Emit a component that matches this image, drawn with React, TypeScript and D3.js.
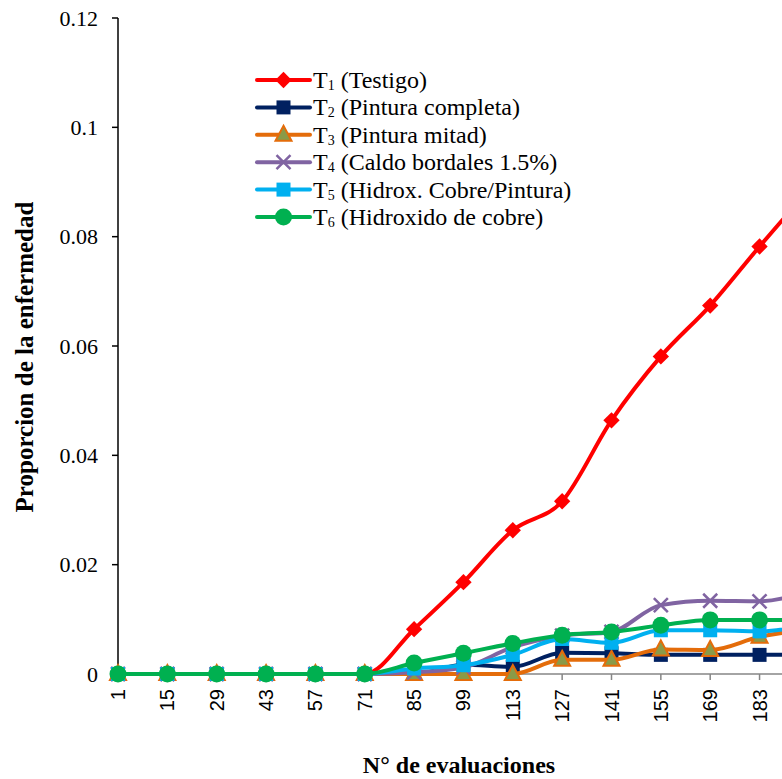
import React, { useEffect, useRef } from 'react';
import * as d3 from 'd3';

// N° de evaluaciones (197 sits just past the right edge, the chart is cut there)
const categories = [1, 15, 29, 43, 57, 71, 85, 99, 113, 127, 141, 155, 169, 183, 197];

const t1 = [0, 0, 0, 0, 0, 0, 0.0082, 0.0168, 0.0263, 0.0316, 0.0464, 0.0581, 0.0674, 0.0782, 0.0886];
const t2 = [0, 0, 0, 0, 0, 0, 0, 0.0017, 0.0013, 0.0039, 0.0038, 0.0035, 0.0035, 0.0035, 0.0035];
const t3 = [0, 0, 0, 0, 0, 0, 0, 0, 0, 0.0026, 0.0026, 0.0045, 0.0044, 0.0068, 0.0082];
const t4 = [0, 0, 0, 0, 0, 0, 0.0003, 0.0012, 0.0049, 0.007, 0.0077, 0.0126, 0.0134, 0.0133, 0.0152];
const t5 = [0, 0, 0, 0, 0, 0, 0.001, 0.0016, 0.0035, 0.0064, 0.0057, 0.008, 0.008, 0.0078, 0.009];
const t6 = [0, 0, 0, 0, 0, 0, 0.002, 0.0038, 0.0056, 0.0071, 0.0077, 0.0089, 0.0099, 0.0099, 0.0099];

const seriesNames = [
  ['1', ' (Testigo)'],
  ['2', ' (Pintura completa)'],
  ['3', ' (Pintura mitad)'],
  ['4', ' (Caldo bordales 1.5%)'],
  ['5', ' (Hidrox. Cobre/Pintura)'],
  ['6', ' (Hidroxido de cobre)'],
];
const yTicks = [0, 0.02, 0.04, 0.06, 0.08, 0.1, 0.12];

const allSeries = [t1, t2, t3, t4, t5, t6];
const colors = ['#ff0000', '#002060', '#e46c0a', '#8064a2', '#00b0f0', '#00b050'];
const markers = ['diamond', 'square', 'triangle', 'x', 'square', 'circle'];

const serif = '"Liberation Serif", "Times New Roman", serif';
const sans = '"Liberation Sans", Arial, sans-serif';

function drawMarker(g: any, kind: string, color: string, x: number, y: number) {
  if (kind === 'circle') {
    g.append('circle').attr('cx', x).attr('cy', y).attr('r', 8.5).attr('fill', color);
  } else if (kind === 'square') {
    g.append('rect').attr('x', x - 7).attr('y', y - 7).attr('width', 14).attr('height', 14).attr('fill', color);
  } else if (kind === 'diamond') {
    g.append('path')
      .attr('d', d3.symbol().type(d3.symbolDiamond2).size(170)())
      .attr('transform', `translate(${x},${y})`)
      .attr('fill', color);
  } else if (kind === 'triangle') {
    g.append('path')
      .attr('d', `M${x},${y - 9}L${x + 8},${y + 6}L${x - 8},${y + 6}Z`)
      .attr('fill', '#8a9a48')
      .attr('stroke', color)
      .attr('stroke-width', 2);
  } else if (kind === 'x') {
    g.append('path')
      .attr('d', `M${x - 7},${y - 7}L${x + 7},${y + 7}M${x - 7},${y + 7}L${x + 7},${y - 7}`)
      .attr('stroke', color)
      .attr('stroke-width', 2.5);
  }
}

export default function App() {
  const svgRef = useRef<SVGSVGElement>(null);

  useEffect(() => {
    const w = 782;
    const h = 779;
    const svg = d3.select(svgRef.current).attr('width', w).attr('height', h);
    svg.selectAll('*').remove();

    const x = d3
      .scalePoint<number>()
      .domain(categories)
      .range([118, 118 + 49.35 * (categories.length - 1)]);
    const y = d3.scaleLinear().domain([0, 0.12]).range([674, 18]);

    // y axis
    svg.append('line').attr('x1', 118).attr('x2', 118).attr('y1', 18).attr('y2', 674)
      .attr('stroke', '#000').attr('stroke-width', 1.5);
    yTicks.forEach((t) => {
      if (t > 0) {
        svg.append('line').attr('x1', 112).attr('x2', 118).attr('y1', y(t)).attr('y2', y(t))
          .attr('stroke', '#000').attr('stroke-width', 1.5);
      }
      svg.append('text')
        .attr('x', 98).attr('y', y(t)).attr('dy', '0.35em')
        .attr('text-anchor', 'end')
        .style('font-family', serif).style('font-size', '22px')
        .text(t === 0 ? '0' : String(t));
    });

    // x axis
    svg.append('line').attr('x1', 118).attr('x2', w).attr('y1', 674).attr('y2', 674)
      .attr('stroke', '#868686').attr('stroke-width', 1.5);
    categories.forEach((c) => {
      svg.append('line').attr('x1', x(c)!).attr('x2', x(c)!).attr('y1', 674).attr('y2', 680)
        .attr('stroke', '#868686').attr('stroke-width', 1.5);
      if (x(c)! < w - 10) {
        svg.append('text')
          .attr('transform', `translate(${x(c)},689) rotate(-90)`)
          .attr('dy', '0.35em')
          .attr('text-anchor', 'end')
          .style('font-family', sans).style('font-size', '20px')
          .text(String(c));
      }
    });

    // titles
    svg.append('text')
      .attr('transform', 'translate(33,357) rotate(-90)')
      .attr('text-anchor', 'middle')
      .style('font-family', serif).style('font-size', '25px').style('font-weight', 'bold')
      .text('Proporcion de la enfermedad');
    svg.append('text')
      .attr('x', 459).attr('y', 773)
      .attr('text-anchor', 'middle')
      .style('font-family', serif).style('font-size', '24px').style('font-weight', 'bold')
      .text('N° de evaluaciones');

    const line = d3
      .line<number>()
      .x((d, i) => x(categories[i])!)
      .y((d) => y(d))
      .curve(d3.curveMonotoneX);

    allSeries.forEach((s, k) => {
      const g = svg.append('g');
      g.append('path')
        .attr('d', line(s))
        .attr('fill', 'none')
        .attr('stroke', colors[k])
        .attr('stroke-width', 4)
        .attr('stroke-linejoin', 'round')
        .attr('stroke-linecap', 'round');
      s.forEach((v, i) => drawMarker(g, markers[k], colors[k], x(categories[i])!, y(v)));
    });

    // legend
    const lg = svg.append('g');
    seriesNames.forEach((n, k) => {
      const ly = 80 + k * 27.4;
      lg.append('line').attr('x1', 257).attr('x2', 310).attr('y1', ly).attr('y2', ly)
        .attr('stroke', colors[k]).attr('stroke-width', 4).attr('stroke-linecap', 'round');
      drawMarker(lg, markers[k], colors[k], 283.5, ly);
      const t = lg.append('text')
        .attr('x', 313).attr('y', ly + 8)
        .style('font-family', serif).style('font-size', '24px');
      t.append('tspan').text('T');
      t.append('tspan').attr('dy', 2).style('font-size', '14px').text(n[0]);
      t.append('tspan').attr('dy', -2).text(n[1]);
    });
  }, []);

  return (
    <div style={{ position: 'fixed', left: 0, top: 0 }}>
      <svg ref={svgRef} style={{ display: 'block', background: '#fff' }}></svg>
    </div>
  );
}
